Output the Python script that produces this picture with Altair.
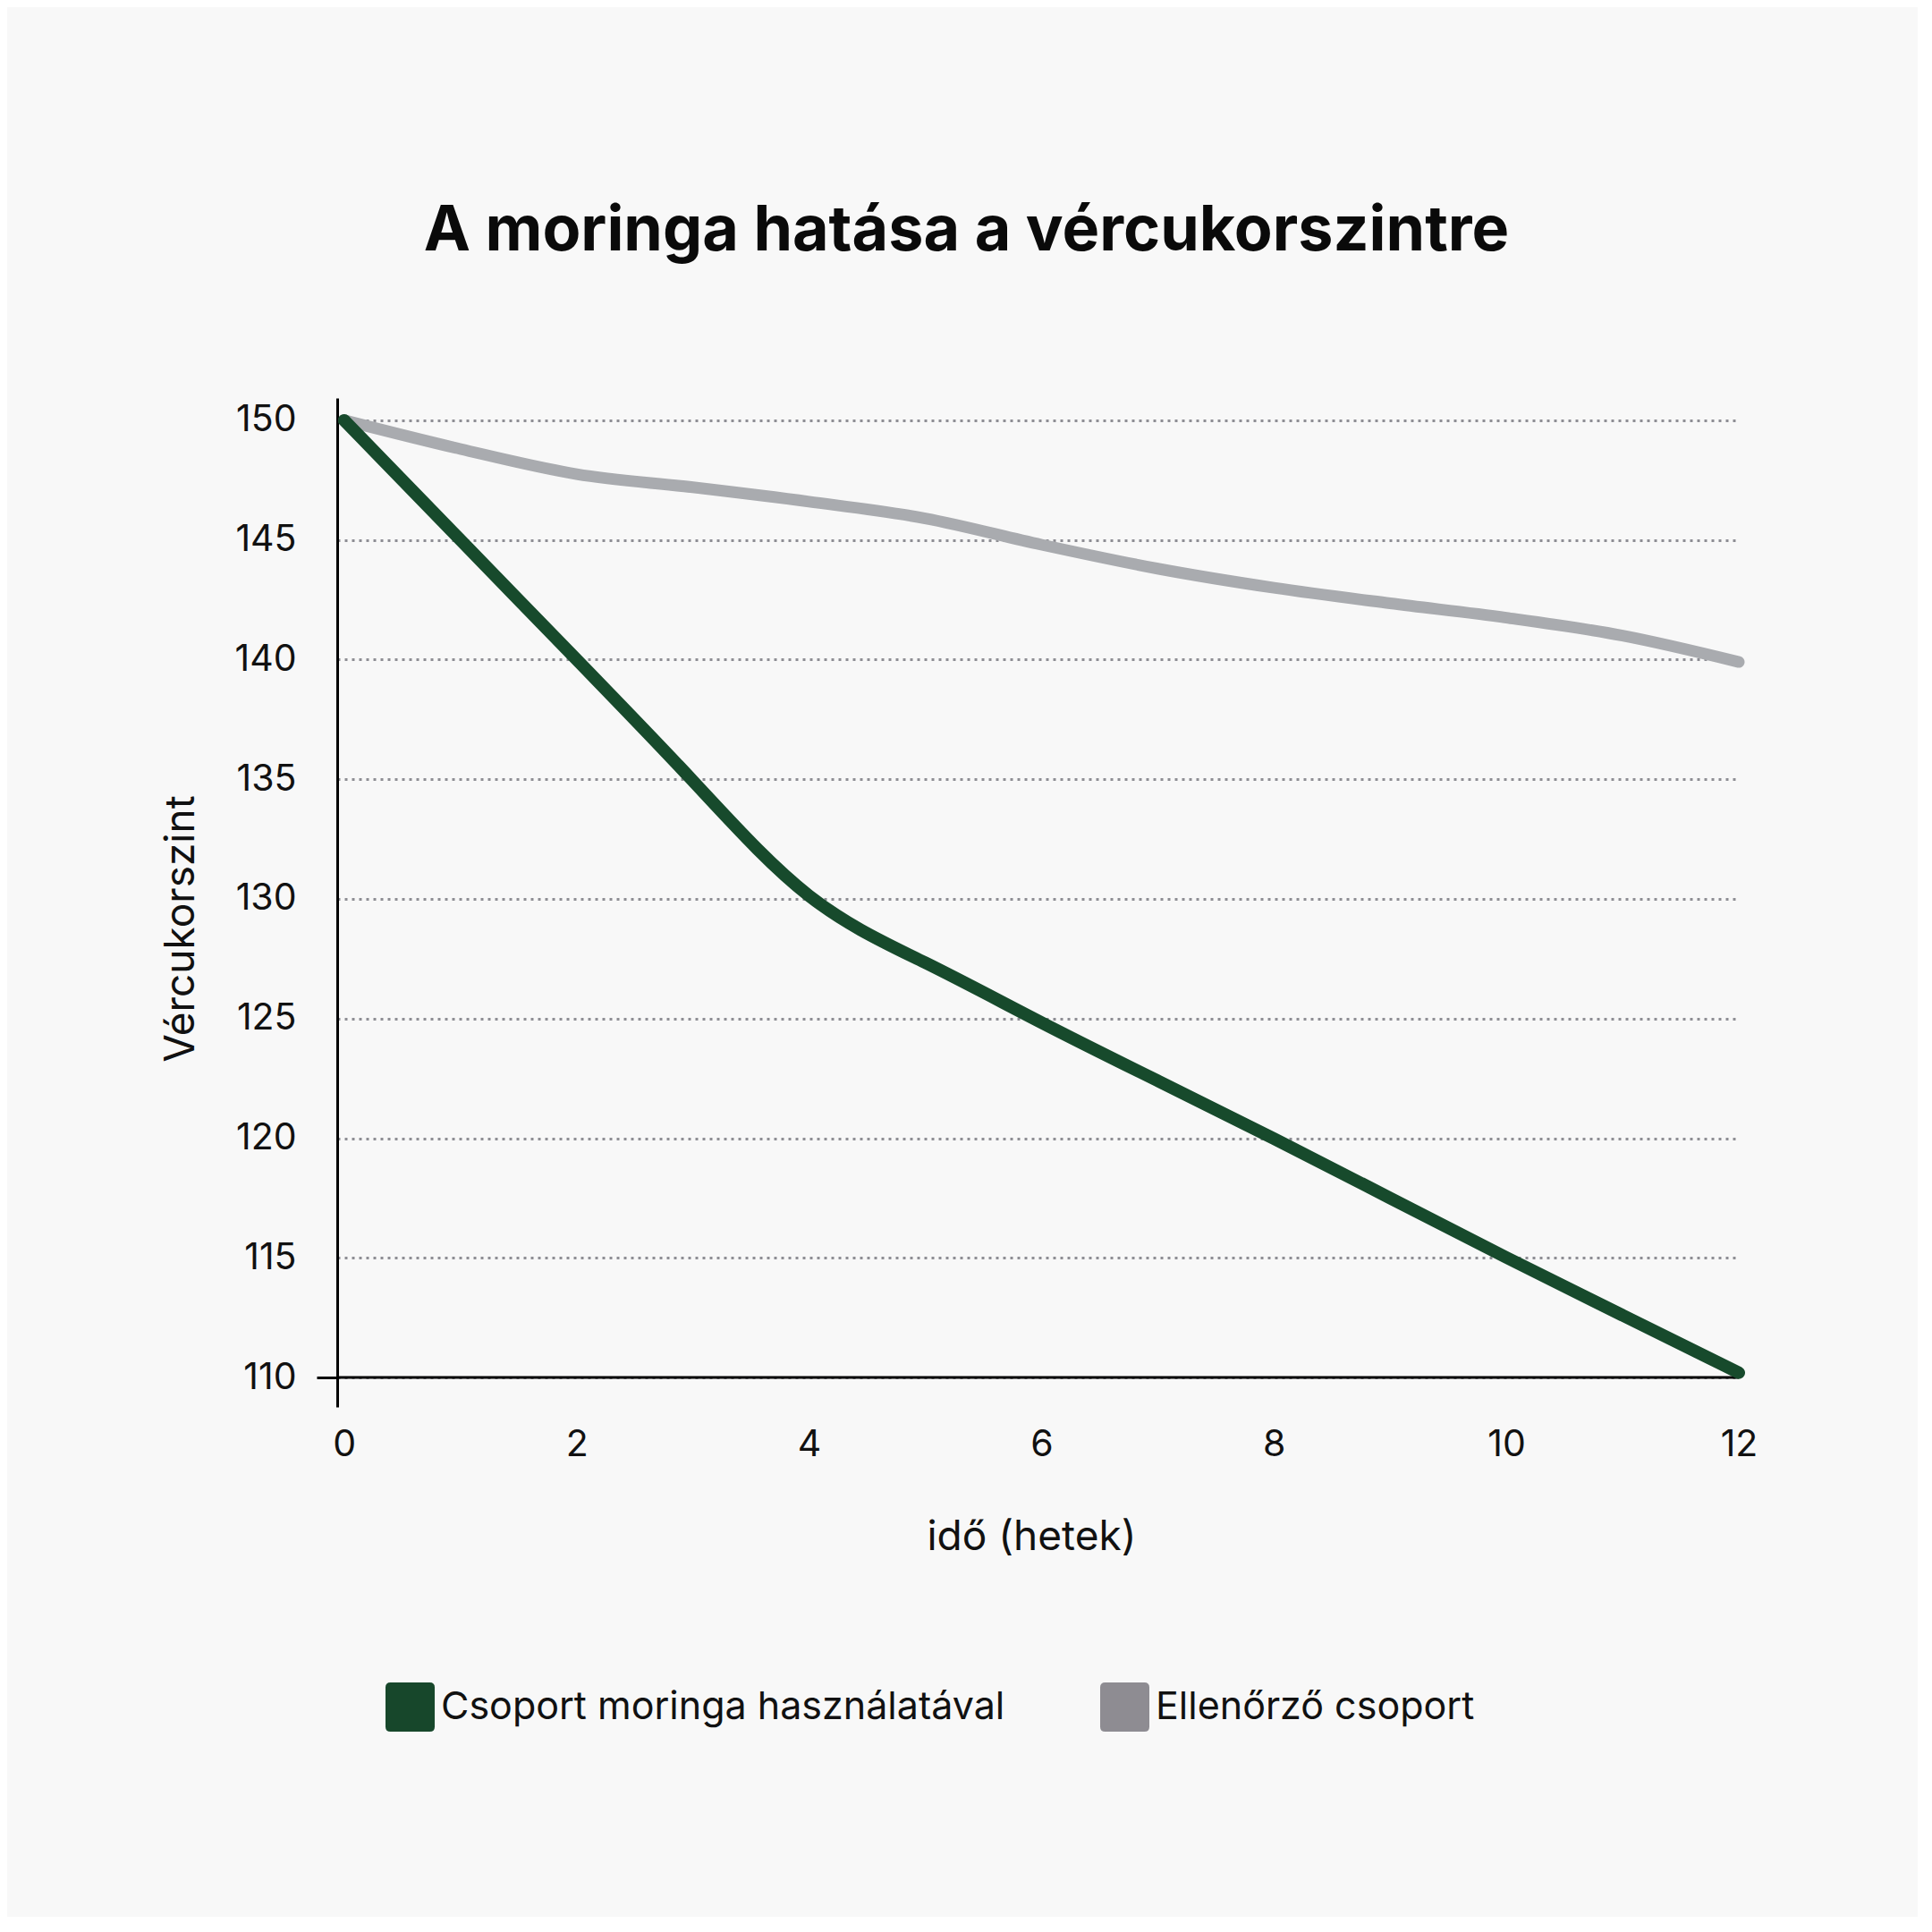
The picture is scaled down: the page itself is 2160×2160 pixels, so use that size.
import altair as alt
import pandas as pd

weeks = [0, 1, 2, 3, 4, 5, 6, 7, 8, 9, 10, 11, 12]
moringa = [150, 145, 140, 135, 129.6, 127.4, 124.8, 122.4, 120, 117.5, 115, 112.6, 110.2]
control = [150, 148.8, 147.75, 147.2, 146.6, 145.9, 144.8, 143.8, 143.0, 142.35, 141.75, 141.0, 139.9]
series_names = ["Csoport moringa használatával", "Ellenőrző csoport"]
y_ticks = [110, 115, 120, 125, 130, 135, 140, 145, 150]
x_ticks = [0, 2, 4, 6, 8, 10, 12]

line_colors = ["#174a2c", "#a9abaf"]
legend_colors = ["#17472b", "#8e8c92"]

rows = []
for w, v in zip(weeks, moringa):
    rows.append({"het": w, "ertek": v, "csoport": series_names[0]})
for w, v in zip(weeks, control):
    rows.append({"het": w, "ertek": v, "csoport": series_names[1]})
df = pd.DataFrame(rows)

FONT = "Inter"

x_scale = alt.Scale(domain=[-0.06, 12], nice=False, zero=False)
y_scale = alt.Scale(domain=[108.77, 150.93], nice=False, zero=False)

x_enc = alt.X(
    "het:Q",
    scale=x_scale,
    axis=alt.Axis(
        values=x_ticks,
        format="d",
        title="idő (hetek)",
        domain=False,
        ticks=False,
        grid=False,
        labelFlush=False,
        labelFont=FONT,
        labelFontSize=41,
        labelColor="#111111",
        labelBaseline="middle",
        labelPadding=42,
        titleFont=FONT,
        titleFontSize=46,
        titleFontWeight="normal",
        titleColor="#111111",
        titleX=776,
        titleY=145,
        titleBaseline="middle",
    ),
)

y_enc = alt.Y(
    "ertek:Q",
    scale=y_scale,
    axis=alt.Axis(
        values=y_ticks,
        title="Vércukorszint",
        domain=True,
        domainColor="#000000",
        domainWidth=3,
        ticks=True,
        tickSize=23,
        tickWidth=3,
        tickColor="#000000",
        tickOpacity={"condition": {"test": "datum.value === 110", "value": 1}, "value": 0},
        grid=True,
        gridColor="#8e8e94",
        gridWidth=3,
        gridDash=[3, 5],
        labelFlush=False,
        labelFont=FONT,
        labelFontSize=41,
        labelColor="#111111",
        labelPadding=23,
        titleFont=FONT,
        titleFontSize=46,
        titleFontWeight="normal",
        titleColor="#111111",
        titleX=-175,
        titleY=593,
        titleAngle=270,
        titleBaseline="middle",
    ),
)

rounded_square = (
    "M -0.8 -1 L 0.8 -1 Q 1 -1 1 -0.8 L 1 0.8 Q 1 1 0.8 1 "
    "L -0.8 1 Q -1 1 -1 0.8 L -1 -0.8 Q -1 -1 -0.8 -1 Z"
)

legend_layer = alt.Chart(df).mark_square(opacity=0, filled=True, size=1).encode(
    x=x_enc,
    y=y_enc,
    color=alt.Color(
        "csoport:N",
        sort=series_names,
        scale=alt.Scale(domain=series_names, range=legend_colors),
        legend=alt.Legend(
            orient="none",
            legendX=54,
            legendY=1436,
            direction="horizontal",
            title=None,
            symbolType=rounded_square,
            symbolSize=3025,
            symbolOpacity=1,
            symbolStrokeWidth=0,
            labelFont=FONT,
            labelFontSize=43,
            labelColor="#111111",
            labelLimit=2000,
            labelOffset=7,
            columnPadding=106,
            padding=0,
        ),
    ),
)

base_rule = pd.DataFrame({"x0": [-0.06], "x1": [12], "y0": [110]})
axis_rule = alt.Chart(base_rule).mark_rule(color="#000000", strokeWidth=3).encode(
    x=alt.X("x0:Q", scale=x_scale),
    x2="x1:Q",
    y=alt.Y("y0:Q", scale=y_scale),
)

def line_for(name, color, width, interp):
    return alt.Chart(df[df["csoport"] == name]).mark_line(
        strokeWidth=width, strokeCap="round", strokeJoin="round", interpolate=interp, color=color
    ).encode(x=x_enc, y=y_enc)

gray_line = line_for(series_names[1], line_colors[1], 13, "monotone")
green_line = line_for(series_names[0], line_colors[0], 14, "basis")

chart = (
    alt.layer(legend_layer, axis_rule, gray_line, green_line)
    .properties(
        width=1567,
        height=1128,
        autosize=alt.AutoSizeParams(type="none"),
        padding={"left": 369, "top": 437, "right": 200, "bottom": 570},
        background="#f8f8f8",
        title=alt.TitleParams(
            text="A moringa hatása a vércukorszintre",
            font=FONT,
            fontSize=70,
            fontWeight="bold",
            color="#0a0a0a",
            anchor="middle",
            frame="group",
            baseline="alphabetic",
            offset=95,
            dx=-80,
        ),
    )
    .configure_view(stroke=None)
)

chart.save("out.html", embed_options={"renderer": "svg", "actions": False})
